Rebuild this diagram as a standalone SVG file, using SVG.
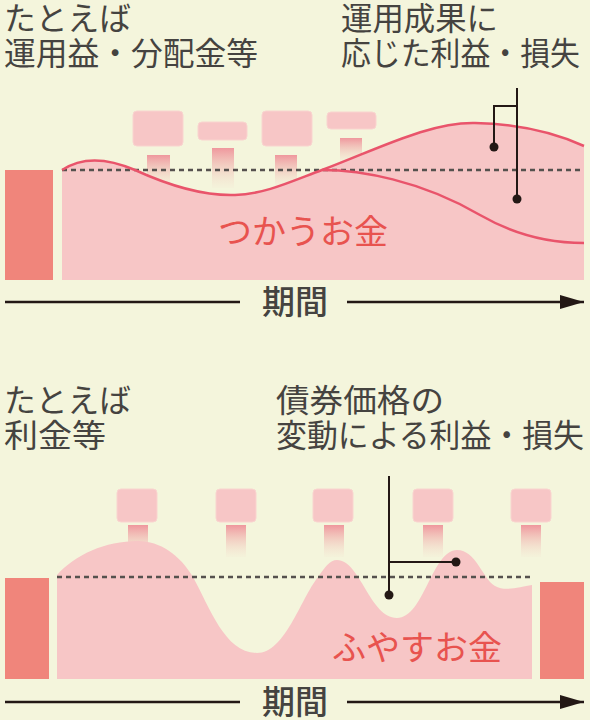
<svg xmlns="http://www.w3.org/2000/svg" width="590" height="720" viewBox="0 0 590 720">
<defs>
<linearGradient id="stemG" x1="0" y1="0" x2="0" y2="1">
<stop offset="0" stop-color="#ef979d"/>
<stop offset="1" stop-color="#f4ecd6" stop-opacity="0.3"/>
</linearGradient>
<marker id="arr" viewBox="0 0 24 14" refX="24" refY="7" markerWidth="24" markerHeight="14" markerUnits="userSpaceOnUse" orient="auto">
<path d="M0,0 L24,7 L0,14 Z" fill="#231815"/>
</marker>
</defs>
<style>
.txt{font-family:"Noto Sans CJK JP","Noto Sans CJK SC",sans-serif;fill:#454340;font-size:31.5px}
.red{font-family:"Noto Sans CJK JP","Noto Sans CJK SC",sans-serif;fill:#e8534f;font-size:34px}
.axis{font-family:"Noto Sans CJK JP","Noto Sans CJK SC",sans-serif;fill:#454340;font-size:33px;font-weight:500}
.bar{fill:#f0857b}
.fill{fill:#f7c6c6}
.box{fill:#f7c6c6;stroke:#f9d4cf;stroke-width:1}
.stem{fill:url(#stemG)}
.curve{fill:none;stroke:#e9546b;stroke-width:2.5}
.dash{stroke:#55514e;stroke-width:2.5;stroke-dasharray:5 4;fill:none}
.ln{stroke:#231815;stroke-width:2;fill:none}
.dot{fill:#231815}
.arrow{stroke:#231815;stroke-width:2.5;fill:none}
</style>
<rect width="590" height="720" fill="#f4f5dc"/>

<!-- Top panel -->
<g id="top-labels">
<text class="txt" x="4" y="30" textLength="127" lengthAdjust="spacingAndGlyphs">たとえば</text>
<text class="txt" x="4" y="65" textLength="254" lengthAdjust="spacingAndGlyphs">運用益・分配金等</text>
<text class="txt" x="341" y="30" textLength="157" lengthAdjust="spacingAndGlyphs">運用成果に</text>
<text class="txt" x="341" y="65" textLength="239" lengthAdjust="spacingAndGlyphs">応じた利益・損失</text>
</g>
<g id="top-initial"><rect class="bar" x="5" y="170" width="48" height="110"/></g>
<g id="top-income">
<rect class="stem" x="147" y="155" width="23" height="32"/>
<rect class="stem" x="212" y="148" width="22" height="40"/>
<rect class="stem" x="275" y="155" width="22" height="32"/>
<rect class="stem" x="340" y="138" width="22" height="25"/>
<rect class="box" x="133" y="111" width="50" height="35" rx="4"/>
<rect class="box" x="198" y="122" width="49" height="18" rx="4"/>
<rect class="box" x="262" y="111" width="50" height="35" rx="4"/>
<rect class="box" x="327" y="112" width="49" height="17" rx="4"/>
</g>
<g id="top-area">
<path class="fill" d="M62,170 C80,158 105,157 135,170 C170,186 205,196 235,195 C265,194 290,182 322,170 C380,148 430,122 475,123 C520,124 555,133 584,146 L584,280 L62,280 Z"/>
<text class="red" x="218" y="244">つかうお金</text>
</g>
<g id="top-axis"><text class="axis" x="295" y="314" text-anchor="middle">期間</text></g>

<!-- Bottom panel -->
<g id="bottom-labels">
<text class="txt" x="4" y="412" textLength="127" lengthAdjust="spacingAndGlyphs">たとえば</text>
<text class="txt" x="4" y="447" textLength="102" lengthAdjust="spacingAndGlyphs">利金等</text>
<text class="txt" x="276" y="412" textLength="168" lengthAdjust="spacingAndGlyphs">債券価格の</text>
<text class="txt" x="276" y="447" textLength="308" lengthAdjust="spacingAndGlyphs">変動による利益・損失</text>
</g>
<g id="bottom-initial"><rect class="bar" x="5" y="578" width="44" height="101"/></g>
<g id="bottom-final"><rect class="bar" x="540" y="582" width="44" height="97"/></g>
<g id="bottom-income">
<rect class="stem" x="128" y="525" width="20" height="32"/>
<rect class="stem" x="226" y="525" width="20" height="32"/>
<rect class="stem" x="324" y="525" width="20" height="32"/>
<rect class="stem" x="423" y="525" width="20" height="32"/>
<rect class="stem" x="521" y="525" width="20" height="32"/>
<rect class="box" x="117" y="489" width="40" height="33" rx="4"/>
<rect class="box" x="216" y="489" width="40" height="33" rx="4"/>
<rect class="box" x="313" y="489" width="40" height="33" rx="4"/>
<rect class="box" x="413" y="489" width="40" height="33" rx="4"/>
<rect class="box" x="511" y="489" width="40" height="33" rx="4"/>
</g>
<g id="bottom-area">
<path class="fill" d="M57,575 C75,555 105,541 138,541 C160,541 180,555 193,577 C210,608 225,653 257,653 C285,653 300,600 318,577 C325,567 330,560 337,560 C360,560 370,618 397,618 C424,618 432,550 457,550 C476,550 482,578 495,586 C505,592 520,587 532,585 L532,679 L57,679 Z"/>
<text class="red" x="332" y="660">ふやすお金</text>
</g>
<g id="bottom-axis"><text class="axis" x="295" y="714" text-anchor="middle">期間</text></g>

<g id="connectors">
<line class="dash" x1="62" y1="170" x2="584" y2="170"/>
<path class="curve" d="M62,170 C80,158 105,157 135,170 C170,186 205,196 235,195 C265,194 290,182 322,170 C380,148 430,122 475,123 C520,124 555,133 584,146"/>
<path class="curve" d="M322,170 C360,170 420,180 480,215 C520,238 555,243 584,243"/>
<path class="ln" d="M517,88 L517,199 M517,106 L494,106 L494,147"/>
<circle class="dot" cx="494" cy="147" r="4.5"/>
<circle class="dot" cx="517" cy="199" r="4.5"/>
<line class="arrow" x1="5" y1="302" x2="240" y2="302"/>
<line class="arrow" x1="347" y1="302" x2="584" y2="302" marker-end="url(#arr)"/>
<line class="dash" x1="57" y1="577" x2="532" y2="577"/>
<path class="ln" d="M389,476 L389,595 M389,562 L456,562"/>
<circle class="dot" cx="389" cy="595" r="4.5"/>
<circle class="dot" cx="456" cy="562" r="4.5"/>
<line class="arrow" x1="5" y1="702" x2="240" y2="702"/>
<line class="arrow" x1="347" y1="702" x2="584" y2="702" marker-end="url(#arr)"/>
</g>
</svg>
